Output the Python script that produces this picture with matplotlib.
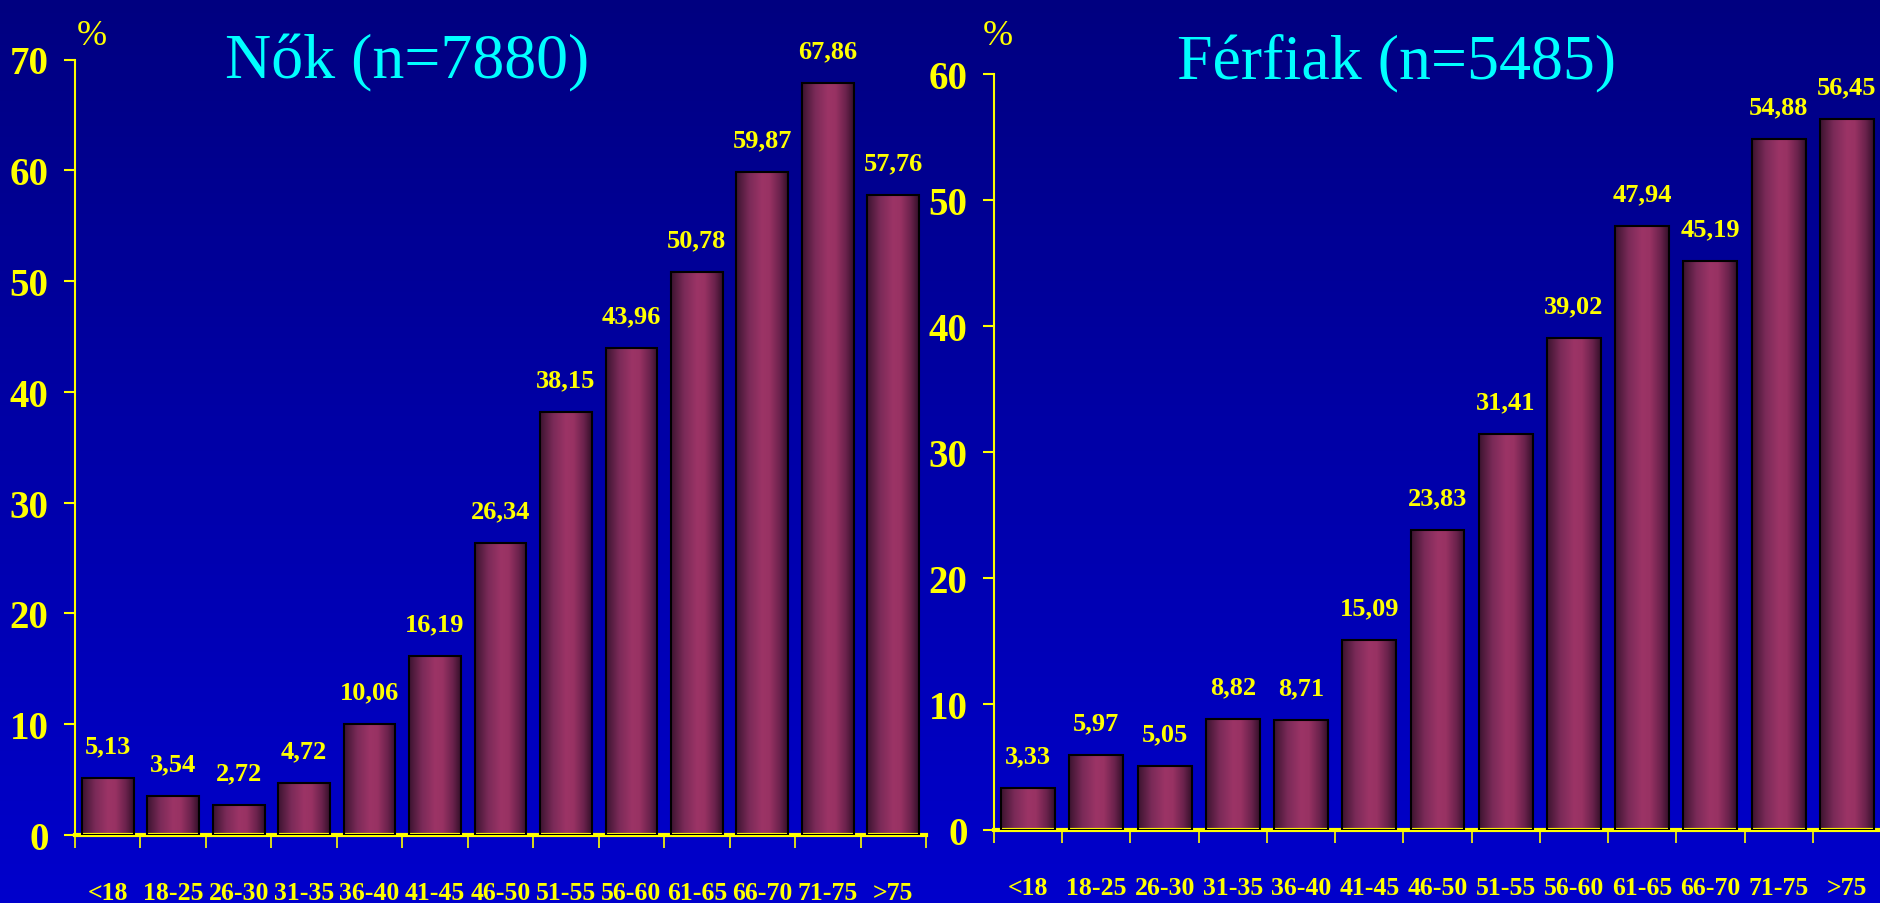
import matplotlib
matplotlib.use('Agg')
import matplotlib.pyplot as plt
import numpy as np
from matplotlib.colors import LinearSegmentedColormap

# korcsoportok
categories = ['<18', '18-25', '26-30', '31-35', '36-40', '41-45', '46-50',
              '51-55', '56-60', '61-65', '66-70', '71-75', '>75']
nok = [5.13, 3.54, 2.72, 4.72, 10.06, 16.19, 26.34, 38.15, 43.96, 50.78, 59.87, 67.86, 57.76]
ferfiak = [3.33, 5.97, 5.05, 8.82, 8.71, 15.09, 23.83, 31.41, 39.02, 47.94, 45.19, 54.88, 56.45]
title_nok = 'Nők (n=7880)'
title_ferfiak = 'Férfiak (n=5485)'

W, H = 1881, 904
YEL = '#ffff00'
SERIF = 'Liberation Serif'

fig = plt.figure(figsize=(W / 100, H / 100), dpi=100)

# hatter: fuggoleges szinatmenet
bg = fig.add_axes([0, 0, 1, 1], zorder=-10)
grad = np.linspace(0, 1, 256).reshape(-1, 1)
bg_cmap = LinearSegmentedColormap.from_list('bg', ['#000080', '#0000a8', '#0000cc'])
bg.imshow(grad, aspect='auto', cmap=bg_cmap, extent=[0, 1, 0, 1])
bg.axis('off')

bar_cmap = LinearSegmentedColormap.from_list(
    'bar', [(0, '#3c1430'), (0.25, '#7a2a58'), (0.5, '#9c3466'),
            (0.65, '#983263'), (0.85, '#6a224c'), (1, '#35102a')])
bar_grad = np.linspace(0, 1, 128).reshape(1, -1)


def box(l, r, top, bottom):
    return [l / W, 1 - bottom / H, (r - l) / W, (bottom - top) / H]


def draw(ax, values, ymax, title, title_x):
    x = np.arange(len(values)) + 0.5
    bars = ax.bar(x, values, width=0.79, facecolor='none', edgecolor='black',
                  linewidth=1.5, zorder=3)
    for b in bars:
        x0 = b.get_x()
        im = ax.imshow(bar_grad, extent=[x0, x0 + b.get_width(), 0, b.get_height()],
                       aspect='auto', cmap=bar_cmap, zorder=2, interpolation='bilinear')
        im.set_clip_path(b)
    for xi, v in zip(x, values):
        ax.annotate(f'{v:.2f}'.replace('.', ','), (xi, v), xytext=(0, 18.5),
                    textcoords='offset points', ha='center', va='baseline',
                    color=YEL, fontsize=19, fontweight='bold', family=SERIF)

    ax.set_xlim(0, len(values))
    ax.set_ylim(0, ymax)
    ax.set_facecolor('none')
    for s in ['top', 'right']:
        ax.spines[s].set_visible(False)
    ax.spines['left'].set_color(YEL)
    ax.spines['left'].set_linewidth(1.5)
    ax.spines['bottom'].set_color(YEL)
    ax.spines['bottom'].set_linewidth(3)

    ax.set_xticks(np.arange(len(values) + 1))
    ax.set_xticklabels([])
    ax.set_xticks(x, minor=True)
    ax.set_xticklabels(categories, minor=True)
    ax.tick_params(axis='x', which='major', length=9, width=1.2, color=YEL, direction='out')
    ax.tick_params(axis='x', which='minor', length=0, pad=33, labelcolor=YEL, labelsize=18.5)
    ax.set_yticks(np.arange(0, ymax + 1, 10))
    ax.tick_params(axis='y', length=8, width=1.5, color=YEL, pad=11, labelcolor=YEL, labelsize=28)
    for lab in ax.get_xticklabels(minor=True) + ax.get_yticklabels():
        lab.set_family(SERIF)
        lab.set_fontweight('bold')

    fig.text(title_x / W, 1 - 78 / H, title, ha='center', va='baseline',
             color='#00ffff', fontsize=46, family=SERIF)


ax1 = fig.add_axes(box(75, 926, 60.5, 836))
draw(ax1, nok, 70, title_nok, 407)
fig.text(92 / W, 1 - 45 / H, '%', ha='center', va='baseline', color=YEL, fontsize=26, family=SERIF)

ax2 = fig.add_axes(box(994, 1881, 75, 831))
draw(ax2, ferfiak, 60, title_ferfiak, 1397)
fig.text(998 / W, 1 - 45 / H, '%', ha='center', va='baseline', color=YEL, fontsize=26, family=SERIF)

fig.savefig('out.png', dpi=100)
